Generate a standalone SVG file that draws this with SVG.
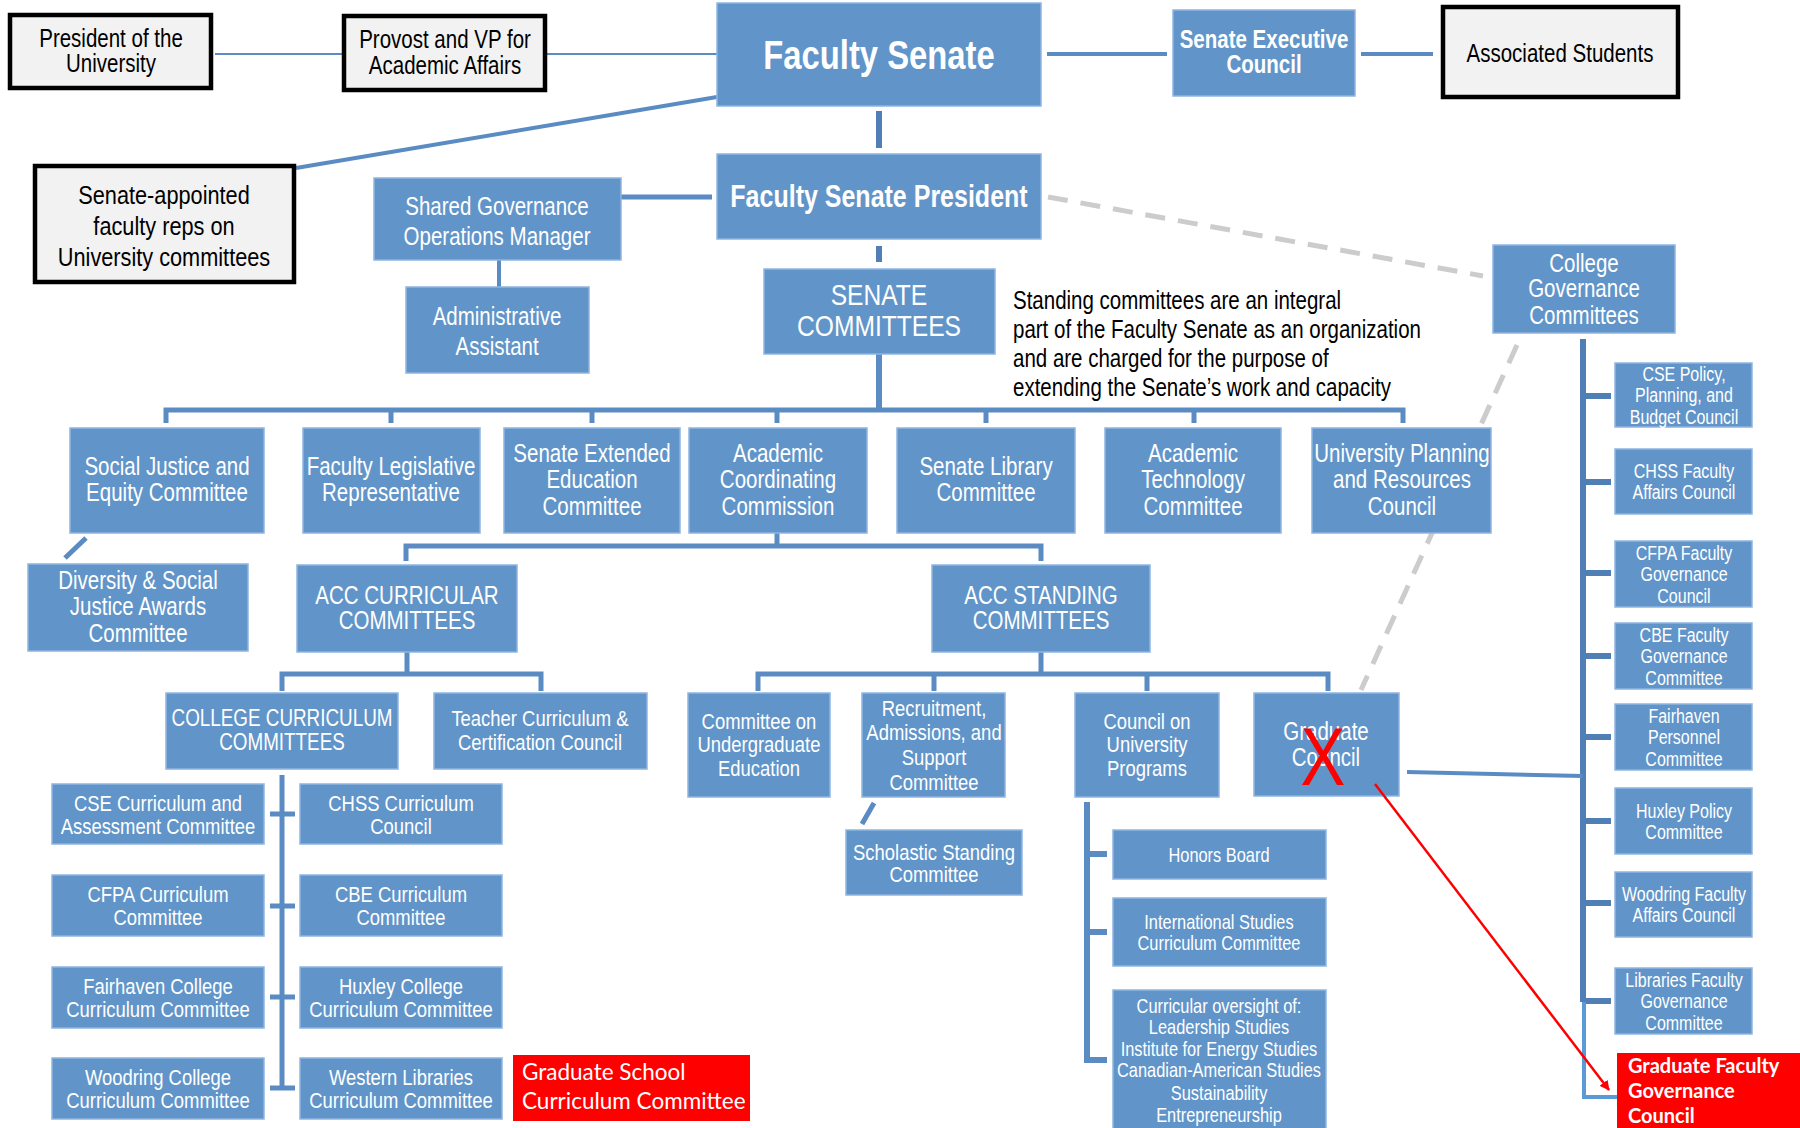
<svg xmlns="http://www.w3.org/2000/svg" width="1800" height="1128" viewBox="0 0 1800 1128">
<style>
.b{fill:#6195c9;stroke:#8fb5df;stroke-width:1.5}
.w{fill:#f2f2f2;stroke:#000;stroke-width:4.5}
.r{fill:#ff0000}
text{font-family:"Liberation Sans",Arial,sans-serif;dominant-baseline:central}
.t,.k,.d,.x{transform-box:fill-box;transform-origin:center;transform:scaleX(0.82)}
.d{transform-origin:left center}
.t{fill:#fff;text-anchor:middle}
.k{fill:#000;text-anchor:middle}
.d{fill:#000}
.bd{font-weight:bold}
.s25{font-size:25px}
.s23{font-size:22.5px}
.s20{font-size:20px}
.s19{font-size:19.5px}
.c{fill:none;stroke:#5a8bc3;stroke-linecap:butt}
.dk{fill:none;stroke:#4f7fb5}
.g{fill:none;stroke:#cccccc;stroke-width:5;stroke-dasharray:20 13}
.rt{fill:#fff;font-family:Lato,"Open Sans","Noto Sans",sans-serif}
</style>
<defs>
<marker id="ah" markerWidth="10" markerHeight="10" refX="9" refY="5" orient="auto" markerUnits="userSpaceOnUse" viewBox="0 0 10 10">
<path d="M0,0 L10,5 L0,10 z" fill="#ff0000"/>
</marker>
</defs>
<g id="connectors">
<line class="g" x1="1048" y1="197" x2="1483" y2="276"/>
<line class="g" x1="1517" y1="345" x2="1361" y2="690"/>
<line class="c" stroke-width="2" x1="215" y1="54" x2="342" y2="54"/>
<line class="c" stroke-width="2" x1="547" y1="54" x2="717" y2="54"/>
<line class="c" stroke-width="4" x1="296" y1="168" x2="717" y2="97"/>
<line class="c" stroke-width="4" x1="1047" y1="54" x2="1167" y2="54"/>
<line class="c" stroke-width="4" x1="1361" y1="54" x2="1433" y2="54"/>
<line class="dk" stroke-width="6" x1="879" y1="111" x2="879" y2="148"/>
<line class="c" stroke-width="5" x1="621" y1="197" x2="712" y2="197"/>
<line class="c" stroke-width="4" x1="499" y1="260" x2="499" y2="287"/>
<line class="dk" stroke-width="6" x1="879" y1="246" x2="879" y2="262"/>
<line class="c" stroke-width="6" x1="879" y1="354" x2="879" y2="410"/>
<path class="c" stroke-width="5" d="M166,423 V410 H1403 V423 M391,410 V423 M592,410 V423 M777,410 V423 M986,410 V423 M1194,410 V423"/>
<line class="c" stroke-width="5" x1="86" y1="538" x2="65" y2="558"/>
<path class="c" stroke-width="5" d="M777,533 V546 M406,561 V546 H1041 V561"/>
<path class="c" stroke-width="5" d="M407,652 V674 M282,691 V674 H541 V691"/>
<path class="c" stroke-width="5" d="M1041,652 V674 M758,691 V674 H1328 V691 M934,674 V691 M1147,674 V691"/>
<path class="c" stroke-width="5" d="M282,775 V1090 M270,814 H295 M270,906 H295 M270,997 H295 M270,1088 H295"/>
<line class="c" stroke-width="5" x1="874" y1="803" x2="862" y2="824"/>
<path class="c" stroke-width="6" d="M1087,802 V1060 H1107 M1087,854 H1107 M1087,932 H1107"/>
<path class="dk" stroke-width="6" d="M1583,339 V1002 M1583,396 H1611 M1583,482 H1611 M1583,573 H1611 M1583,656 H1611 M1583,737 H1611 M1583,821 H1611 M1583,903 H1611 M1583,1001 H1611"/>
<path fill="none" stroke="#5b9bd5" stroke-width="4" d="M1584,1002 V1097 H1617"/>
<line class="c" stroke-width="4" x1="1407" y1="772" x2="1583" y2="776"/>
</g>
<g id="president"><rect class="w" x="10" y="15" width="201" height="73"/><text class="k s25" x="111" y="38">President of the</text><text class="k s25" x="111" y="63">University</text></g>
<g id="provost"><rect class="w" x="344" y="16" width="201" height="74"/><text class="k s25" x="445" y="39">Provost and VP for</text><text class="k s25" x="445" y="65">Academic Affairs</text></g>
<g id="faculty-senate"><rect class="b" x="717" y="3" width="324" height="103"/><text class="t bd" style="font-size:40px" x="879" y="55">Faculty Senate</text></g>
<g id="senate-exec"><rect class="b" x="1173" y="10" width="182" height="86"/><text class="t bd s25" x="1264" y="39">Senate Executive</text><text class="t bd s25" x="1264" y="64">Council</text></g>
<g id="associated-students"><rect class="w" x="1443" y="7" width="235" height="90"/><text class="k s25" x="1560" y="53">Associated Students</text></g>
<g id="senate-appointed"><rect class="w" x="35" y="166" width="259" height="116"/><text class="k" style="font-size:26.5px" x="164" y="195">Senate-appointed</text><text class="k" style="font-size:26.5px" x="164" y="226">faculty reps on</text><text class="k" style="font-size:26.5px" x="164" y="257">University committees</text></g>
<g id="shared-gov"><rect class="b" x="374" y="178" width="247" height="82"/><text class="t s25" x="497" y="206">Shared Governance</text><text class="t s25" x="497" y="236">Operations Manager</text></g>
<g id="fs-president"><rect class="b" x="717" y="154" width="324" height="85"/><text class="t bd" style="font-size:30.5px" x="879" y="197">Faculty Senate President</text></g>
<g id="admin-asst"><rect class="b" x="406" y="287" width="183" height="86"/><text class="t s25" x="497" y="316">Administrative</text><text class="t s25" x="497" y="346">Assistant</text></g>
<g id="senate-committees"><rect class="b" x="764" y="269" width="231" height="85"/><text class="t" style="font-size:30px" x="879" y="295">SENATE</text><text class="t" style="font-size:30px" x="879" y="326">COMMITTEES</text></g>
<g id="description"><text class="d s25" x="1013" y="300">Standing committees are an integral</text><text class="d s25" x="1013" y="329">part of the Faculty Senate as an organization</text><text class="d s25" x="1013" y="358">and are charged for the purpose of</text><text class="d s25" x="1013" y="387">extending the Senate’s work and capacity</text></g>
<g id="college-gov"><rect class="b" x="1493" y="245" width="182" height="88"/><text class="t s25" x="1584" y="263">College</text><text class="t s25" x="1584" y="288">Governance</text><text class="t s25" x="1584" y="315">Committees</text></g>
<g id="sjec"><rect class="b" x="70" y="428" width="194" height="105"/><text class="t s25" x="167" y="466">Social Justice and</text><text class="t s25" x="167" y="492">Equity Committee</text></g>
<g id="flr"><rect class="b" x="303" y="428" width="177" height="105"/><text class="t s25" x="391" y="466">Faculty Legislative</text><text class="t s25" x="391" y="492">Representative</text></g>
<g id="seec"><rect class="b" x="504" y="428" width="176" height="105"/><text class="t s25" x="592" y="453">Senate Extended</text><text class="t s25" x="592" y="479">Education</text><text class="t s25" x="592" y="506">Committee</text></g>
<g id="acc"><rect class="b" x="689" y="428" width="178" height="105"/><text class="t s25" x="778" y="453">Academic</text><text class="t s25" x="778" y="479">Coordinating</text><text class="t s25" x="778" y="506">Commission</text></g>
<g id="slc"><rect class="b" x="897" y="428" width="178" height="105"/><text class="t s25" x="986" y="466">Senate Library</text><text class="t s25" x="986" y="492">Committee</text></g>
<g id="atc"><rect class="b" x="1105" y="428" width="176" height="105"/><text class="t s25" x="1193" y="453">Academic</text><text class="t s25" x="1193" y="479">Technology</text><text class="t s25" x="1193" y="506">Committee</text></g>
<g id="uprc"><rect class="b" x="1312" y="428" width="179" height="105"/><text class="t s25" x="1402" y="453">University Planning</text><text class="t s25" x="1402" y="479">and Resources</text><text class="t s25" x="1402" y="506">Council</text></g>
<g id="dsjac"><rect class="b" x="28" y="564" width="220" height="87"/><text class="t s25" x="138" y="580">Diversity &amp; Social</text><text class="t s25" x="138" y="606">Justice Awards</text><text class="t s25" x="138" y="633">Committee</text></g>
<g id="acc-curricular"><rect class="b" x="297" y="565" width="220" height="87"/><text class="t s25" x="407" y="595">ACC CURRICULAR</text><text class="t s25" x="407" y="620">COMMITTEES</text></g>
<g id="acc-standing"><rect class="b" x="932" y="565" width="218" height="87"/><text class="t s25" x="1041" y="595">ACC STANDING</text><text class="t s25" x="1041" y="620">COMMITTEES</text></g>
<g id="college-curriculum"><rect class="b" x="166" y="693" width="232" height="76"/><text class="t" style="font-size:23px" x="282" y="718">COLLEGE CURRICULUM</text><text class="t" style="font-size:23px" x="282" y="742">COMMITTEES</text></g>
<g id="teacher"><rect class="b" x="434" y="693" width="213" height="76"/><text class="t s23" x="540" y="718">Teacher Curriculum &amp;</text><text class="t s23" x="540" y="742">Certification Council</text></g>
<g id="cue"><rect class="b" x="688" y="693" width="142" height="104"/><text class="t s23" x="759" y="721">Committee on</text><text class="t s23" x="759" y="744">Undergraduate</text><text class="t s23" x="759" y="768">Education</text></g>
<g id="ras"><rect class="b" x="862" y="693" width="143" height="104"/><text class="t s23" x="934" y="708">Recruitment,</text><text class="t s23" x="934" y="732">Admissions, and</text><text class="t s23" x="934" y="757">Support</text><text class="t s23" x="934" y="782">Committee</text></g>
<g id="cup"><rect class="b" x="1075" y="693" width="144" height="104"/><text class="t s23" x="1147" y="721">Council on</text><text class="t s23" x="1147" y="744">University</text><text class="t s23" x="1147" y="768">Programs</text></g>
<g id="grad-council"><rect class="b" x="1254" y="693" width="145" height="103"/><text class="t s25" x="1326" y="731">Graduate</text><text class="t s25" x="1326" y="757">Council</text><text class="x" fill="#ff0000" text-anchor="middle" style="font-size:82px;dominant-baseline:alphabetic" x="1323" y="785">X</text></g>
<g id="scholastic"><rect class="b" x="846" y="830" width="176" height="65"/><text class="t s23" x="934" y="852">Scholastic Standing</text><text class="t s23" x="934" y="874">Committee</text></g>
<g id="honors"><rect class="b" x="1113" y="830" width="213" height="49"/><text class="t s20" x="1219" y="855">Honors Board</text></g>
<g id="intl"><rect class="b" x="1113" y="898" width="213" height="68"/><text class="t s20" x="1219" y="922">International Studies</text><text class="t s20" x="1219" y="943">Curriculum Committee</text></g>
<g id="curricular-oversight"><rect class="b" x="1113" y="990" width="213" height="142"/><text class="t s20" x="1219" y="1006">Curricular oversight of:</text><text class="t s20" x="1219" y="1027">Leadership Studies</text><text class="t s20" x="1219" y="1049">Institute for Energy Studies</text><text class="t s20" x="1219" y="1070">Canadian-American Studies</text><text class="t s20" x="1219" y="1093">Sustainability</text><text class="t s20" x="1219" y="1115">Entrepreneurship</text></g>
<g id="cse-curr"><rect class="b" x="52" y="784" width="212" height="60"/><text class="t s23" x="158" y="803">CSE Curriculum and</text><text class="t s23" x="158" y="826">Assessment Committee</text></g>
<g id="chss-curr"><rect class="b" x="300" y="784" width="202" height="60"/><text class="t s23" x="401" y="803">CHSS Curriculum</text><text class="t s23" x="401" y="826">Council</text></g>
<g id="cfpa-curr"><rect class="b" x="52" y="875" width="212" height="61"/><text class="t s23" x="158" y="894">CFPA Curriculum</text><text class="t s23" x="158" y="917">Committee</text></g>
<g id="cbe-curr"><rect class="b" x="300" y="875" width="202" height="61"/><text class="t s23" x="401" y="894">CBE Curriculum</text><text class="t s23" x="401" y="917">Committee</text></g>
<g id="fairhaven-curr"><rect class="b" x="52" y="967" width="212" height="61"/><text class="t s23" x="158" y="986">Fairhaven College</text><text class="t s23" x="158" y="1009">Curriculum Committee</text></g>
<g id="huxley-curr"><rect class="b" x="300" y="967" width="202" height="61"/><text class="t s23" x="401" y="986">Huxley College</text><text class="t s23" x="401" y="1009">Curriculum Committee</text></g>
<g id="woodring-curr"><rect class="b" x="52" y="1058" width="212" height="61"/><text class="t s23" x="158" y="1077">Woodring College</text><text class="t s23" x="158" y="1100">Curriculum Committee</text></g>
<g id="libraries-curr"><rect class="b" x="300" y="1058" width="202" height="61"/><text class="t s23" x="401" y="1077">Western Libraries</text><text class="t s23" x="401" y="1100">Curriculum Committee</text></g>
<g id="grad-school-curr"><rect class="r" x="513" y="1055" width="237" height="66"/><text class="rt" style="font-size:22.5px" x="522" y="1071">Graduate School</text><text class="rt" style="font-size:22.5px" x="522" y="1100">Curriculum Committee</text></g>
<g id="cse-policy"><rect class="b" x="1615" y="363" width="137" height="64"/><text class="t s19" x="1684" y="374">CSE Policy,</text><text class="t s19" x="1684" y="395">Planning, and</text><text class="t s19" x="1684" y="417">Budget Council</text></g>
<g id="chss-fac"><rect class="b" x="1615" y="449" width="137" height="65"/><text class="t s19" x="1684" y="471">CHSS Faculty</text><text class="t s19" x="1684" y="492">Affairs Council</text></g>
<g id="cfpa-fac"><rect class="b" x="1615" y="541" width="137" height="66"/><text class="t s19" x="1684" y="553">CFPA Faculty</text><text class="t s19" x="1684" y="574">Governance</text><text class="t s19" x="1684" y="596">Council</text></g>
<g id="cbe-fac"><rect class="b" x="1615" y="623" width="137" height="66"/><text class="t s19" x="1684" y="635">CBE Faculty</text><text class="t s19" x="1684" y="656">Governance</text><text class="t s19" x="1684" y="678">Committee</text></g>
<g id="fairhaven-pers"><rect class="b" x="1615" y="704" width="137" height="66"/><text class="t s19" x="1684" y="716">Fairhaven</text><text class="t s19" x="1684" y="737">Personnel</text><text class="t s19" x="1684" y="759">Committee</text></g>
<g id="huxley-pol"><rect class="b" x="1615" y="788" width="137" height="66"/><text class="t s19" x="1684" y="811">Huxley Policy</text><text class="t s19" x="1684" y="832">Committee</text></g>
<g id="woodring-fac"><rect class="b" x="1615" y="872" width="137" height="65"/><text class="t s19" x="1684" y="894">Woodring Faculty</text><text class="t s19" x="1684" y="915">Affairs Council</text></g>
<g id="libraries-fac"><rect class="b" x="1615" y="968" width="137" height="66"/><text class="t s19" x="1684" y="980">Libraries Faculty</text><text class="t s19" x="1684" y="1001">Governance</text><text class="t s19" x="1684" y="1023">Committee</text></g>
<g id="grad-fac-gov"><rect class="r" x="1617" y="1053" width="183" height="75"/><text class="rt bd" style="font-size:20px" x="1628" y="1065">Graduate Faculty</text><text class="rt bd" style="font-size:20px" x="1628" y="1090">Governance</text><text class="rt bd" style="font-size:20px" x="1628" y="1115">Council</text></g>
<g id="red-arrow"><line x1="1375" y1="784" x2="1609" y2="1090" stroke="#ff0000" stroke-width="2.5" marker-end="url(#ah)"/></g>
</svg>
